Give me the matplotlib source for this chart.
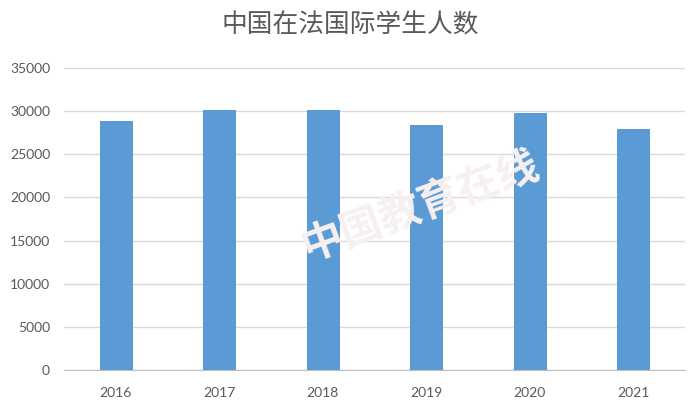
import matplotlib
matplotlib.use("Agg")
import matplotlib.pyplot as plt

years = ["2016", "2017", "2018", "2019", "2020", "2021"]
students = [28800, 30080, 30080, 28380, 29730, 27960]
yticks = [0, 5000, 10000, 15000, 20000, 25000, 30000, 35000]
title = "中国在法国际学生人数"

plt.rcParams['font.family'] = ['Lato', 'Noto Sans CJK SC', 'DejaVu Sans']

fig = plt.figure(figsize=(7, 4.12), dpi=100)
ax = fig.add_axes([64/700, 42/412, 621/700, 302/412])

x = range(len(years))
ax.bar(x, students, width=0.31, color="#5B9BD5", edgecolor="#4F8FCB", linewidth=0.6, zorder=3)
ax.set_xlim(-0.5, len(years) - 0.5)
ax.set_ylim(0, 35000)
ax.set_yticks(yticks)
ax.set_yticklabels([str(v) for v in yticks])
ax.set_xticks(list(x))
ax.set_xticklabels(years)
ax.yaxis.grid(True, color="#D9D9D9", linewidth=1, zorder=0)
ax.set_axisbelow(True)
for s in ["top", "right", "left"]:
    ax.spines[s].set_visible(False)
ax.spines["bottom"].set_color("#BFBFBF")
ax.tick_params(axis="both", length=0, colors="#595959", labelsize=10)
ax.tick_params(axis="x", pad=12)
ax.tick_params(axis="y", pad=10)

# faint watermark
fig.text(0.6, 0.5, "中国教育在线", rotation=20, fontsize=30, color="#F7F0F0",
         family=['Noto Sans CJK SC'], ha="center", va="center", weight="bold", zorder=0)

fig.text(0.5, 0.938, title, ha="center", va="center", fontsize=18.5, color="#595959",
         family=['Noto Sans CJK SC', 'DejaVu Sans'])

fig.savefig("out.png", dpi=100)
